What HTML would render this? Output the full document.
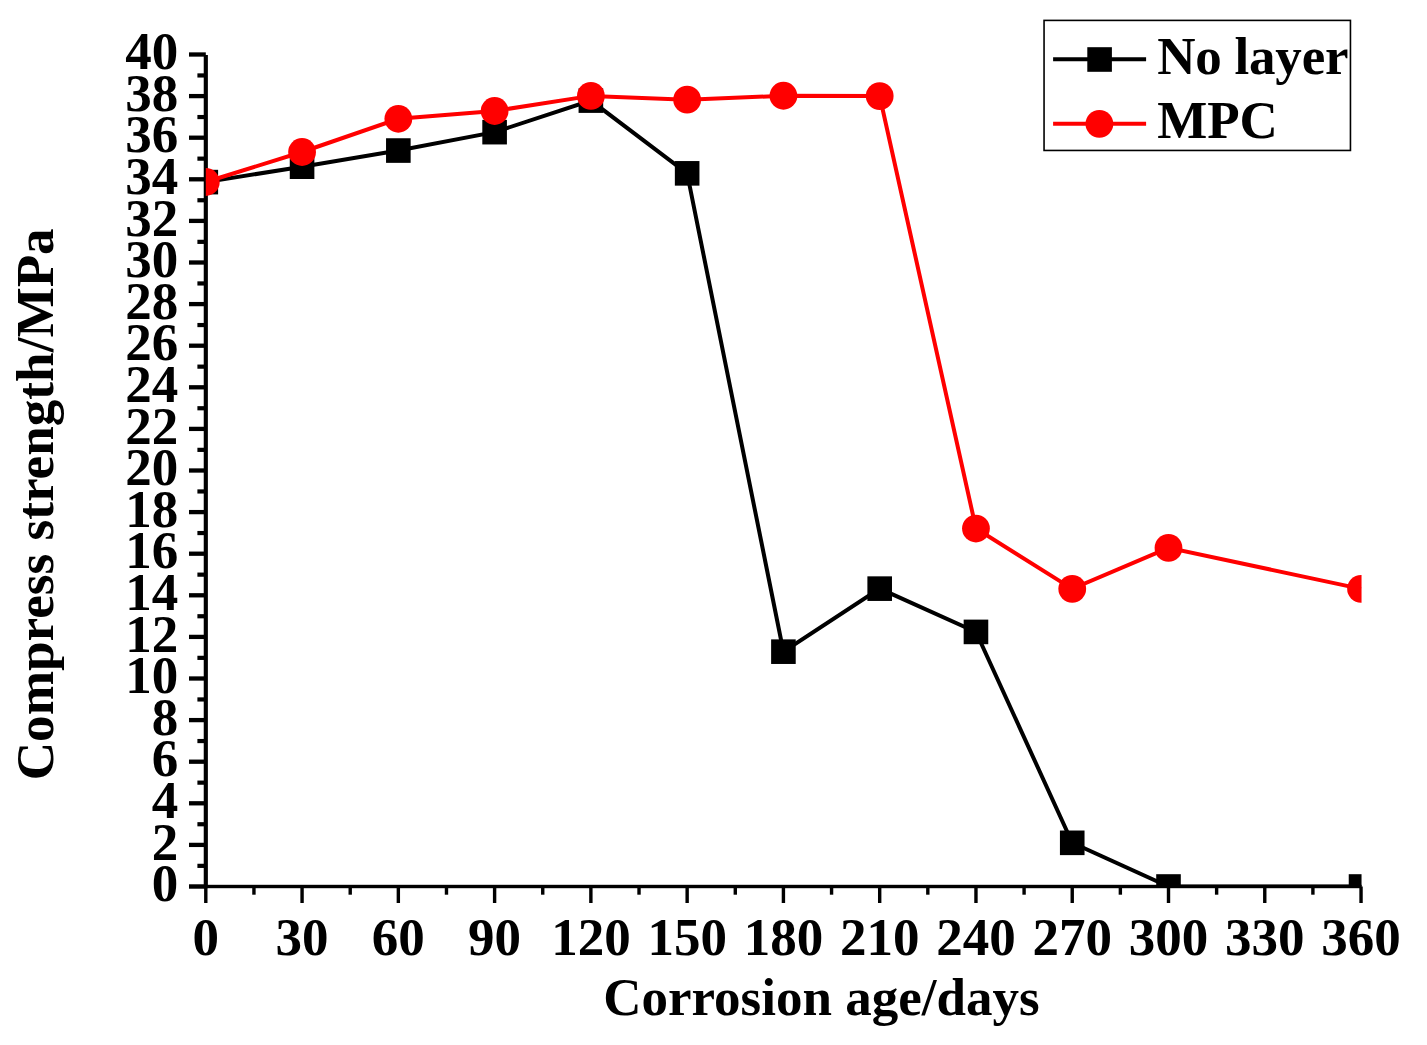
<!DOCTYPE html><html><head><meta charset="utf-8"><style>html,body{margin:0;padding:0;background:#fff;}svg{display:block;}text{font-family:"Liberation Serif",serif;font-weight:bold;}</style></head><body>
<svg width="1427" height="1045" viewBox="0 0 1427 1045">
<rect width="1427" height="1045" fill="#fff"/>
<defs><clipPath id="pc"><rect x="205.80" y="55" width="1155.74" height="831.50"/></clipPath></defs>
<rect x="189" y="884.35" width="16.80" height="4.3" fill="#000"/>
<rect x="197.4" y="863.75" width="8.40" height="4.2" fill="#000"/>
<rect x="189" y="842.75" width="16.80" height="4.3" fill="#000"/>
<rect x="197.4" y="822.15" width="8.40" height="4.2" fill="#000"/>
<rect x="189" y="801.15" width="16.80" height="4.3" fill="#000"/>
<rect x="197.4" y="780.55" width="8.40" height="4.2" fill="#000"/>
<rect x="189" y="759.55" width="16.80" height="4.3" fill="#000"/>
<rect x="197.4" y="738.95" width="8.40" height="4.2" fill="#000"/>
<rect x="189" y="717.95" width="16.80" height="4.3" fill="#000"/>
<rect x="197.4" y="697.35" width="8.40" height="4.2" fill="#000"/>
<rect x="189" y="676.35" width="16.80" height="4.3" fill="#000"/>
<rect x="197.4" y="655.75" width="8.40" height="4.2" fill="#000"/>
<rect x="189" y="634.75" width="16.80" height="4.3" fill="#000"/>
<rect x="197.4" y="614.15" width="8.40" height="4.2" fill="#000"/>
<rect x="189" y="593.15" width="16.80" height="4.3" fill="#000"/>
<rect x="197.4" y="572.55" width="8.40" height="4.2" fill="#000"/>
<rect x="189" y="551.55" width="16.80" height="4.3" fill="#000"/>
<rect x="197.4" y="530.95" width="8.40" height="4.2" fill="#000"/>
<rect x="189" y="509.95" width="16.80" height="4.3" fill="#000"/>
<rect x="197.4" y="489.35" width="8.40" height="4.2" fill="#000"/>
<rect x="189" y="468.35" width="16.80" height="4.3" fill="#000"/>
<rect x="197.4" y="447.75" width="8.40" height="4.2" fill="#000"/>
<rect x="189" y="426.75" width="16.80" height="4.3" fill="#000"/>
<rect x="197.4" y="406.15" width="8.40" height="4.2" fill="#000"/>
<rect x="189" y="385.15" width="16.80" height="4.3" fill="#000"/>
<rect x="197.4" y="364.55" width="8.40" height="4.2" fill="#000"/>
<rect x="189" y="343.55" width="16.80" height="4.3" fill="#000"/>
<rect x="197.4" y="322.95" width="8.40" height="4.2" fill="#000"/>
<rect x="189" y="301.95" width="16.80" height="4.3" fill="#000"/>
<rect x="197.4" y="281.35" width="8.40" height="4.2" fill="#000"/>
<rect x="189" y="260.35" width="16.80" height="4.3" fill="#000"/>
<rect x="197.4" y="239.75" width="8.40" height="4.2" fill="#000"/>
<rect x="189" y="218.75" width="16.80" height="4.3" fill="#000"/>
<rect x="197.4" y="198.15" width="8.40" height="4.2" fill="#000"/>
<rect x="189" y="177.15" width="16.80" height="4.3" fill="#000"/>
<rect x="197.4" y="156.55" width="8.40" height="4.2" fill="#000"/>
<rect x="189" y="135.55" width="16.80" height="4.3" fill="#000"/>
<rect x="197.4" y="114.95" width="8.40" height="4.2" fill="#000"/>
<rect x="189" y="93.95" width="16.80" height="4.3" fill="#000"/>
<rect x="197.4" y="73.35" width="8.40" height="4.2" fill="#000"/>
<rect x="189" y="52.35" width="16.80" height="4.3" fill="#000"/>
<rect x="204.10" y="886.50" width="3.4" height="16.50" fill="#000"/>
<rect x="252.24" y="886.50" width="3.4" height="8.20" fill="#000"/>
<rect x="300.37" y="886.50" width="3.4" height="16.50" fill="#000"/>
<rect x="348.51" y="886.50" width="3.4" height="8.20" fill="#000"/>
<rect x="396.64" y="886.50" width="3.4" height="16.50" fill="#000"/>
<rect x="444.78" y="886.50" width="3.4" height="8.20" fill="#000"/>
<rect x="492.91" y="886.50" width="3.4" height="16.50" fill="#000"/>
<rect x="541.04" y="886.50" width="3.4" height="8.20" fill="#000"/>
<rect x="589.18" y="886.50" width="3.4" height="16.50" fill="#000"/>
<rect x="637.32" y="886.50" width="3.4" height="8.20" fill="#000"/>
<rect x="685.45" y="886.50" width="3.4" height="16.50" fill="#000"/>
<rect x="733.59" y="886.50" width="3.4" height="8.20" fill="#000"/>
<rect x="781.72" y="886.50" width="3.4" height="16.50" fill="#000"/>
<rect x="829.86" y="886.50" width="3.4" height="8.20" fill="#000"/>
<rect x="877.99" y="886.50" width="3.4" height="16.50" fill="#000"/>
<rect x="926.12" y="886.50" width="3.4" height="8.20" fill="#000"/>
<rect x="974.26" y="886.50" width="3.4" height="16.50" fill="#000"/>
<rect x="1022.39" y="886.50" width="3.4" height="8.20" fill="#000"/>
<rect x="1070.53" y="886.50" width="3.4" height="16.50" fill="#000"/>
<rect x="1118.66" y="886.50" width="3.4" height="8.20" fill="#000"/>
<rect x="1166.80" y="886.50" width="3.4" height="16.50" fill="#000"/>
<rect x="1214.93" y="886.50" width="3.4" height="8.20" fill="#000"/>
<rect x="1263.07" y="886.50" width="3.4" height="16.50" fill="#000"/>
<rect x="1311.20" y="886.50" width="3.4" height="8.20" fill="#000"/>
<rect x="1359.34" y="886.50" width="3.4" height="16.50" fill="#000"/>
<rect x="203.73" y="55" width="4.15" height="833.20" fill="#000"/>
<rect x="189" y="884.80" width="1172.64" height="3.4" fill="#000"/>
<text x="178.3" y="901.10" font-size="53" text-anchor="end">0</text>
<text x="178.3" y="859.50" font-size="53" text-anchor="end">2</text>
<text x="178.3" y="817.90" font-size="53" text-anchor="end">4</text>
<text x="178.3" y="776.30" font-size="53" text-anchor="end">6</text>
<text x="178.3" y="734.70" font-size="53" text-anchor="end">8</text>
<text x="178.3" y="693.10" font-size="53" text-anchor="end">10</text>
<text x="178.3" y="651.50" font-size="53" text-anchor="end">12</text>
<text x="178.3" y="609.90" font-size="53" text-anchor="end">14</text>
<text x="178.3" y="568.30" font-size="53" text-anchor="end">16</text>
<text x="178.3" y="526.70" font-size="53" text-anchor="end">18</text>
<text x="178.3" y="485.10" font-size="53" text-anchor="end">20</text>
<text x="178.3" y="443.50" font-size="53" text-anchor="end">22</text>
<text x="178.3" y="401.90" font-size="53" text-anchor="end">24</text>
<text x="178.3" y="360.30" font-size="53" text-anchor="end">26</text>
<text x="178.3" y="318.70" font-size="53" text-anchor="end">28</text>
<text x="178.3" y="277.10" font-size="53" text-anchor="end">30</text>
<text x="178.3" y="235.50" font-size="53" text-anchor="end">32</text>
<text x="178.3" y="193.90" font-size="53" text-anchor="end">34</text>
<text x="178.3" y="152.30" font-size="53" text-anchor="end">36</text>
<text x="178.3" y="110.70" font-size="53" text-anchor="end">38</text>
<text x="178.3" y="69.10" font-size="53" text-anchor="end">40</text>
<text x="205.80" y="955" font-size="53" text-anchor="middle">0</text>
<text x="302.07" y="955" font-size="53" text-anchor="middle">30</text>
<text x="398.34" y="955" font-size="53" text-anchor="middle">60</text>
<text x="494.61" y="955" font-size="53" text-anchor="middle">90</text>
<text x="590.88" y="955" font-size="53" text-anchor="middle">120</text>
<text x="687.15" y="955" font-size="53" text-anchor="middle">150</text>
<text x="783.42" y="955" font-size="53" text-anchor="middle">180</text>
<text x="879.69" y="955" font-size="53" text-anchor="middle">210</text>
<text x="975.96" y="955" font-size="53" text-anchor="middle">240</text>
<text x="1072.23" y="955" font-size="53" text-anchor="middle">270</text>
<text x="1168.50" y="955" font-size="53" text-anchor="middle">300</text>
<text x="1264.77" y="955" font-size="53" text-anchor="middle">330</text>
<text x="1361.04" y="955" font-size="53" text-anchor="middle">360</text>
<text x="821.4" y="1014.8" font-size="53" text-anchor="middle">Corrosion age/days</text>
<text transform="translate(52.5,504.3) rotate(-90)" x="0" y="0" font-size="53.2" text-anchor="middle">Compress strength/MPa</text>
<g clip-path="url(#pc)"><polyline points="205.80,182.11 302.07,166.70 398.34,150.55 494.61,132.15 590.88,100.59 687.15,173.35 783.42,651.67 879.69,588.64 975.96,631.91 1072.23,842.82 1168.50,886.50 1361.04,886.50" fill="none" stroke="#000" stroke-width="4.0" stroke-linejoin="miter"/><rect x="193.50" y="169.81" width="24.6" height="24.6" fill="#000"/><rect x="289.77" y="154.40" width="24.6" height="24.6" fill="#000"/><rect x="386.04" y="138.25" width="24.6" height="24.6" fill="#000"/><rect x="482.31" y="119.85" width="24.6" height="24.6" fill="#000"/><rect x="578.58" y="88.29" width="24.6" height="24.6" fill="#000"/><rect x="674.85" y="161.05" width="24.6" height="24.6" fill="#000"/><rect x="771.12" y="639.37" width="24.6" height="24.6" fill="#000"/><rect x="867.39" y="576.34" width="24.6" height="24.6" fill="#000"/><rect x="963.66" y="619.61" width="24.6" height="24.6" fill="#000"/><rect x="1059.93" y="830.52" width="24.6" height="24.6" fill="#000"/><rect x="1156.20" y="874.20" width="24.6" height="24.6" fill="#000"/><rect x="1348.74" y="874.20" width="24.6" height="24.6" fill="#000"/></g>
<g clip-path="url(#pc)"><polyline points="205.80,182.00 302.07,151.99 398.34,118.79 494.61,110.99 590.88,95.89 687.15,99.70 783.42,95.75 879.69,96.06 975.96,528.53 1072.23,588.85 1168.50,547.88 1361.04,588.85" fill="none" stroke="#f00" stroke-width="4.0" stroke-linejoin="miter"/><circle cx="205.80" cy="182.00" r="13.9" fill="#f00"/><circle cx="302.07" cy="151.99" r="13.9" fill="#f00"/><circle cx="398.34" cy="118.79" r="13.9" fill="#f00"/><circle cx="494.61" cy="110.99" r="13.9" fill="#f00"/><circle cx="590.88" cy="95.89" r="13.9" fill="#f00"/><circle cx="687.15" cy="99.70" r="13.9" fill="#f00"/><circle cx="783.42" cy="95.75" r="13.9" fill="#f00"/><circle cx="879.69" cy="96.06" r="13.9" fill="#f00"/><circle cx="975.96" cy="528.53" r="13.9" fill="#f00"/><circle cx="1072.23" cy="588.85" r="13.9" fill="#f00"/><circle cx="1168.50" cy="547.88" r="13.9" fill="#f00"/><circle cx="1361.04" cy="588.85" r="13.9" fill="#f00"/></g>
<rect x="1044.05" y="20.4" width="306.4" height="130.05" fill="#fff" stroke="#000" stroke-width="1.6"/>
<line x1="1053.1" y1="59.3" x2="1146.1" y2="59.3" stroke="#000" stroke-width="4.0"/>
<rect x="1087.30" y="47.20" width="24.6" height="24.6" fill="#000"/>
<line x1="1053.1" y1="123.8" x2="1146.1" y2="123.8" stroke="#f00" stroke-width="4.0"/>
<circle cx="1099.4" cy="123.8" r="13.9" fill="#f00"/>
<text x="1157.2" y="73.6" font-size="53" textLength="191.3">No layer</text>
<text x="1157.2" y="138.4" font-size="53">MPC</text>
</svg></body></html>
